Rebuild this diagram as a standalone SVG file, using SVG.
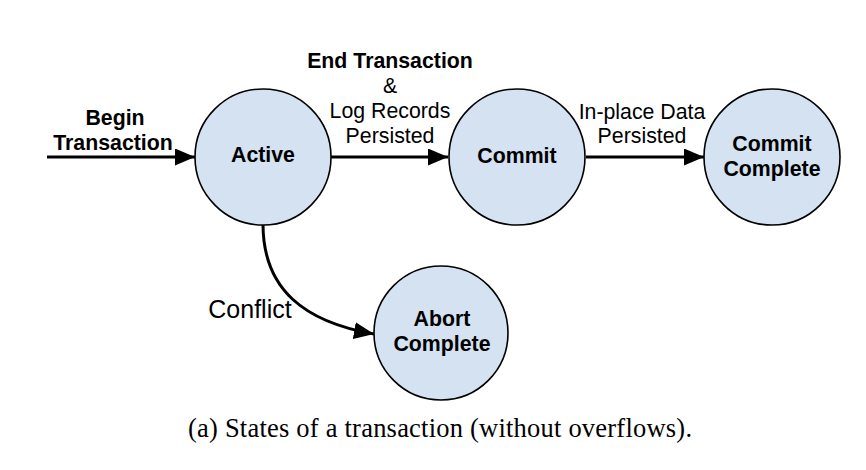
<svg xmlns="http://www.w3.org/2000/svg" width="866" height="470" viewBox="0 0 866 470">
<style>
.node{fill:#d4e2f1;stroke:#000;stroke-width:1.6}
.lb{font-family:"Liberation Sans",Arial,sans-serif;font-size:21.3px;font-weight:bold;fill:#000;text-anchor:middle}
.lr{font-family:"Liberation Sans",Arial,sans-serif;font-size:21.3px;fill:#000;text-anchor:middle}
.edge{fill:none;stroke:#000;stroke-width:3}
.cap{font-family:"Liberation Serif","Times New Roman",serif;font-size:26.5px;fill:#000}
</style>
<defs>
<marker id="arr" markerUnits="userSpaceOnUse" markerWidth="22" markerHeight="18" refX="20" refY="8.5" orient="auto">
<path d="M0,0 L20,8.5 L0,17 Z" fill="#000"/>
</marker>
</defs>
<rect width="866" height="470" fill="#fff"/>
<g id="connectors">
<line class="edge" x1="47" y1="157" x2="195" y2="157" marker-end="url(#arr)"/>
<line class="edge" x1="331" y1="157" x2="448" y2="157" marker-end="url(#arr)"/>
<line class="edge" x1="586" y1="157" x2="704" y2="157" marker-end="url(#arr)"/>
<path class="edge" d="M263,224 C263,290 305,322 374,334" marker-end="url(#arr)"/>
<text class="lb" x="115" y="125">Begin</text>
<text class="lb" x="113" y="150">Transaction</text>
<text class="lb" x="390" y="68">End Transaction</text>
<text class="lr" x="390" y="93">&amp;</text>
<text class="lr" x="390" y="118">Log Records</text>
<text class="lr" x="390" y="143">Persisted</text>
<text class="lr" x="642" y="119">In-place Data</text>
<text class="lr" x="642" y="143">Persisted</text>
<text class="lr" x="250" y="318" style="font-size:25px">Conflict</text>
</g>
<g id="node-active">
<circle class="node" cx="263" cy="157" r="68"/>
<text class="lb" x="263" y="162">Active</text>
</g>
<g id="node-commit">
<circle class="node" cx="517" cy="157" r="68"/>
<text class="lb" x="517" y="163">Commit</text>
</g>
<g id="node-commit-complete">
<circle class="node" cx="772" cy="157" r="68"/>
<text class="lb" x="772" y="151">Commit</text>
<text class="lb" x="772" y="176">Complete</text>
</g>
<g id="node-abort-complete">
<circle class="node" cx="441" cy="333" r="67"/>
<text class="lb" x="442" y="326">Abort</text>
<text class="lb" x="442" y="351">Complete</text>
</g>
<text class="cap" x="188" y="437" textLength="504" lengthAdjust="spacing">(a) States of a transaction (without overflows).</text>
</svg>
